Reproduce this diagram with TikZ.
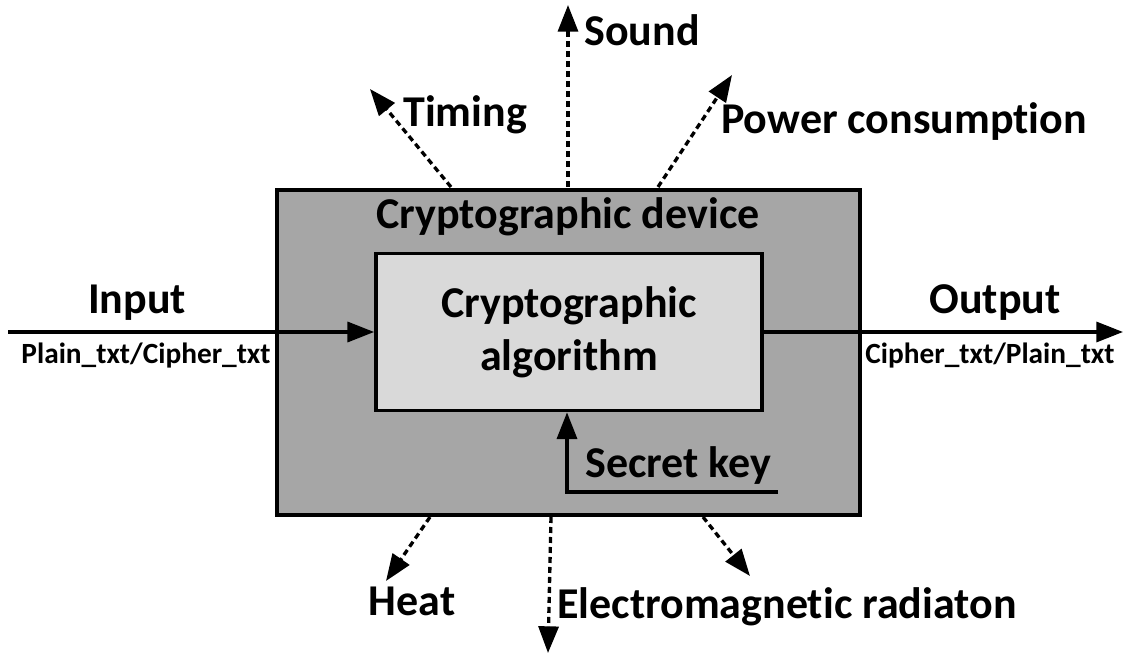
\documentclass[tikz,border=0pt]{standalone}
\usepackage{fontspec}
\setmainfont[Ligatures={NoCommon}]{Carlito}
\usetikzlibrary{arrows.meta}
\begin{document}
\begin{tikzpicture}[x=0.75pt,y=-0.75pt,
  big/.style={font=\fontsize{33}{38}\selectfont\bfseries, inner sep=0pt},
  small/.style={font=\fontsize{22}{26}\selectfont\bfseries, inner sep=0pt},
  devbox/.style={draw=black, line width=3pt, fill=devgray, minimum width=437.25pt, minimum height=243.75pt, inner sep=0pt},
  algbox/.style={draw=black, line width=2.8pt, fill=alggray, minimum width=289.5pt, minimum height=117.75pt, inner sep=0pt, align=center, font=\fontsize{33}{38}\selectfont\bfseries},
  flow/.style={line width=2.5pt, -{Triangle[length=20pt,width=15pt]}},
  leak/.style={line width=2.5pt, dash pattern=on 4.5pt off 3pt, -{Triangle[length=20pt,width=15pt]}}
]
\definecolor{devgray}{HTML}{A6A6A6}
\definecolor{alggray}{HTML}{D9D9D9}
\useasboundingbox (0,0) rectangle (1125,655);
% boxes
\node[devbox] (dev) at (568.5,352.5) {};
\node[algbox] (alg) at (569,332) {Cryptographic\\[2pt]algorithm};
\node[big] (devlabel) at (568,217) {Cryptographic device};
% input / output
\coordinate (inL) at (8,332);
\coordinate (outR) at (1123,332);
\draw[flow] (inL) -- (alg.west);
\draw[flow] (alg.east) -- (outR);
\node[big] (inlab) at (137,303) {Input};
\node[small] (insub) at (146,356) {Plain\_txt/Cipher\_txt};
\node[big] (outlab) at (995,303) {Output};
\node[small] (outsub) at (990,356) {Cipher\_txt/Plain\_txt};
% secret key
\coordinate (keyR) at (778,492);
\coordinate (keyC) at (567,492);
\draw[flow] (keyR) -- (keyC) -- (keyC |- alg.south);
\node[big, anchor=west] (keylab) at (585,466) {Secret key};
% leakage channels
\coordinate (tA) at (451,187);
\coordinate (tB) at (370,89);
\coordinate (sA) at (568,187);
\coordinate (sB) at (568,5);
\coordinate (pA) at (658,187);
\coordinate (pB) at (732,75);
\coordinate (hA) at (430,517);
\coordinate (hB) at (386,581);
\coordinate (eA) at (551,517);
\coordinate (eB) at (548,653);
\coordinate (rA) at (703,517);
\coordinate (rB) at (750,576);
\draw[leak] (tA) -- (tB);
\draw[leak] (sA) -- (sB);
\draw[leak] (pA) -- (pB);
\draw[leak] (hA) -- (hB);
\draw[leak] (eA) -- (eB);
\draw[leak] (rA) -- (rB);
\node[big, anchor=west] (timing) at (403,115) {Timing};
\node[big, anchor=west] (sound) at (584,30) {Sound};
\node[big, anchor=west] (power) at (721,122) {Power consumption};
\node[big] (heat) at (412,601) {Heat};
\node[big, anchor=west] (em) at (557,607) {Electromagnetic radiaton};
\end{tikzpicture}
\end{document}
